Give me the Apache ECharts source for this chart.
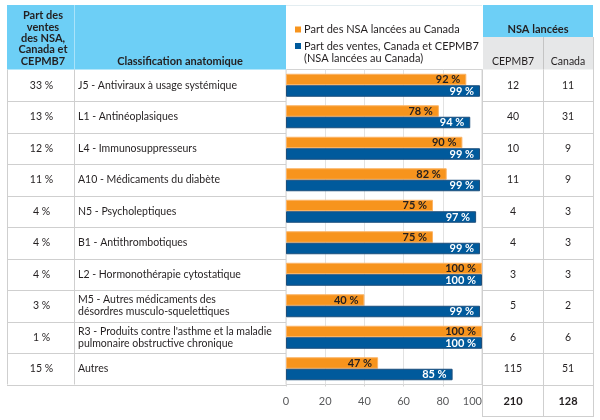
<!DOCTYPE html>
<html><head><meta charset="utf-8">
<script src="https://cdn.jsdelivr.net/npm/echarts@6/dist/echarts.min.js"></script>
<style>html,body{margin:0;padding:0;background:#fff}#c{width:600px;height:420px}</style>
</head><body><div id="c"></div>
<script>
// ---- data ----
const categories = [
  'J5 - Antiviraux à usage systémique',
  'L1 - Antinéoplasiques',
  'L4 - Immunosuppresseurs',
  'A10 - Médicaments du diabète',
  'N5 - Psycholeptiques',
  'B1 - Antithrombotiques',
  'L2 - Hormonothérapie cytostatique',
  'M5 - Autres médicaments des\ndésordres musculo-squelettiques',
  "R3 - Produits contre l'asthme et la maladie\npulmonaire obstructive chronique",
  'Autres'
];
const salesShare = ['33 %','13 %','12 %','11 %','4 %','4 %','4 %','3 %','1 %','15 %'];
const nsaLaunchedShare = [92, 78, 90, 82, 75, 75, 100, 40, 100, 47];
const salesLaunchedShare = [99, 94, 99, 99, 97, 99, 100, 99, 100, 85];
const launchedPMPRB7 = [12, 40, 10, 11, 4, 4, 3, 5, 6, 115];
const launchedCanada = [11, 31, 9, 9, 3, 3, 3, 2, 6, 51];
const totals = [210, 128];
const seriesNames = ['Part des NSA lancées au Canada', 'Part des ventes, Canada et CEPMB7', '(NSA lancées au Canada)'];
const headers = {
  share: 'Part des\nventes\ndes NSA,\nCanada et\nCEPMB7',
  cls: 'Classification anatomique',
  launched: 'NSA lancées',
  sub: ['CEPMB7', 'Canada']
};

// ---- style/layout ----
const FONT = 'Lato';
const ORANGE = '#f7941d', BLUE = '#005a9c', HEAD = '#6dcff6', SUB = '#e6e7e8';
const TXT = '#231f20', LINE = '#cfcfcf';
const G = {left: 286, right: 118, top: 69.5, bottom: 35.5};
const W = 600, H = 420;
const gTop = G.top, gBot = H - G.bottom, gRight = W - G.right;
const rowH = (gBot - gTop) / categories.length;

const chart = echarts.init(document.getElementById('c'), null, {renderer: 'canvas'});

const graphic = [];
// headers
graphic.push({type:'rect', shape:{x:7, y:5, width:G.left-7, height:gTop-5}, style:{fill:HEAD}, z:0});
graphic.push({type:'line', shape:{x1:74.5, y1:5, x2:74.5, y2:gTop}, style:{stroke:'#a9e3fa', lineWidth:1}, z:1});
graphic.push({type:'rect', shape:{x:gRight+1, y:5, width:110, height:32}, style:{fill:HEAD}, z:0});
graphic.push({type:'rect', shape:{x:gRight+1, y:37, width:110, height:gTop-37}, style:{fill:SUB}, z:0});
graphic.push({type:'line', shape:{x1:543.5, y1:37, x2:543.5, y2:gTop}, style:{stroke:'#c4c4c4', lineWidth:1}, z:1});
graphic.push({type:'line', shape:{x1:G.left, y1:5.5, x2:gRight, y2:5.5}, style:{stroke:'#e3edf1', lineWidth:1}, z:1});
graphic.push({type:'text', x:43, y:38.5, style:{text:headers.share, font:'bold 11px '+FONT, fill:TXT, textAlign:'center', textVerticalAlign:'middle', lineHeight:11.3}, z:2});
graphic.push({type:'text', x:180, y:61.5, style:{text:headers.cls, font:'bold 11px '+FONT, fill:TXT, textAlign:'center', textVerticalAlign:'middle'}, z:2});
graphic.push({type:'text', x:538, y:29.5, style:{text:headers.launched, font:'bold 11px '+FONT, fill:TXT, textAlign:'center', textVerticalAlign:'middle'}, z:2});
graphic.push({type:'text', x:513, y:61.5, style:{text:headers.sub[0], font:'10.5px '+FONT, fill:TXT, textAlign:'center', textVerticalAlign:'middle'}, z:2});
graphic.push({type:'text', x:568, y:61.5, style:{text:headers.sub[1], font:'10.5px '+FONT, fill:TXT, textAlign:'center', textVerticalAlign:'middle'}, z:2});
// legend (manual, to align square with first line)
graphic.push({type:'rect', shape:{x:295, y:26.5, width:6, height:6}, style:{fill:ORANGE}, z:2});
graphic.push({type:'text', x:304, y:29.5, style:{text:seriesNames[0], font:'11px '+FONT, fill:TXT, textVerticalAlign:'middle'}, z:2});
graphic.push({type:'rect', shape:{x:295, y:43, width:6, height:6}, style:{fill:BLUE}, z:2});
graphic.push({type:'text', x:304, y:46.5, style:{text:seriesNames[1], font:'11px '+FONT, fill:TXT, textVerticalAlign:'middle'}, z:2});
graphic.push({type:'text', x:304, y:58, style:{text:seriesNames[2], font:'11px '+FONT, fill:TXT, textVerticalAlign:'middle'}, z:2});
// table rules
for (let i = 1; i <= categories.length; i++) {
  const y = Math.round(gTop + i * rowH) + 0.5;
  graphic.push({type:'line', shape:{x1:7, y1:y, x2:G.left, y2:y}, style:{stroke:LINE, lineWidth:1}, z:1});
  graphic.push({type:'line', shape:{x1:gRight, y1:y, x2:593.5, y2:y}, style:{stroke:LINE, lineWidth:1}, z:1});
}
graphic.push({type:'line', shape:{x1:7.5, y1:gTop, x2:7.5, y2:gBot}, style:{stroke:LINE, lineWidth:1}, z:1});
graphic.push({type:'line', shape:{x1:74.5, y1:gTop, x2:74.5, y2:gBot}, style:{stroke:LINE, lineWidth:1}, z:1});
graphic.push({type:'line', shape:{x1:gRight+0.5, y1:gTop, x2:gRight+0.5, y2:417}, style:{stroke:LINE, lineWidth:1}, z:1});
graphic.push({type:'line', shape:{x1:543.5, y1:gTop, x2:543.5, y2:417}, style:{stroke:LINE, lineWidth:1}, z:1});
graphic.push({type:'line', shape:{x1:593.5, y1:37, x2:593.5, y2:417}, style:{stroke:LINE, lineWidth:1}, z:1});
graphic.push({type:'line', shape:{x1:gRight, y1:416.5, x2:593.5, y2:416.5}, style:{stroke:LINE, lineWidth:1}, z:1});
graphic.push({type:'text', x:513, y:401.5, style:{text:String(totals[0]), font:'bold 11px '+FONT, fill:TXT, textAlign:'center', textVerticalAlign:'middle'}, z:2});
graphic.push({type:'text', x:568, y:401.5, style:{text:String(totals[1]), font:'bold 11px '+FONT, fill:TXT, textAlign:'center', textVerticalAlign:'middle'}, z:2});

const catAxisBase = {
  type: 'category', inverse: true, gridIndex: 0,
  axisLine: {show: false}, axisTick: {show: false}, splitLine: {show: false}
};

chart.setOption({
  animation: false,
  textStyle: {fontFamily: FONT},
  grid: {left: G.left, right: G.right, top: G.top, bottom: G.bottom, show: true, borderColor: '#d4d4d4', borderWidth: 1},
  xAxis: {
    type: 'value', min: 0, max: 100, interval: 20,
    axisLine: {show: false},
    axisTick: {show: true, length: 2, lineStyle: {color: '#d4d4d4'}},
    splitLine: {show: true, lineStyle: {color: '#e2e2e2'}},
    axisLabel: {color: '#58595b', fontSize: 11, fontFamily: FONT, margin: 11, alignMaxLabel: 'right'}
  },
  yAxis: [
    Object.assign({}, catAxisBase, {data: categories, position: 'left',
      axisLabel: {align: 'left', margin: G.left - 78, color: TXT, fontSize: 10.5, lineHeight: 12, fontFamily: FONT}}),
    Object.assign({}, catAxisBase, {data: salesShare, position: 'left',
      axisLabel: {align: 'center', margin: G.left - 41.5, color: TXT, fontSize: 10.5, fontFamily: FONT}}),
    Object.assign({}, catAxisBase, {data: launchedPMPRB7, position: 'right',
      axisLabel: {align: 'center', margin: 513 - gRight, color: TXT, fontSize: 10.5, fontFamily: FONT}}),
    Object.assign({}, catAxisBase, {data: launchedCanada, position: 'right',
      axisLabel: {align: 'center', margin: 568 - gRight, color: TXT, fontSize: 10.5, fontFamily: FONT}})
  ],
  series: [
    {
      name: seriesNames[0], type: 'bar', yAxisIndex: 0, data: nsaLaunchedShare,
      barWidth: 11.5, barGap: '0%',
      itemStyle: {color: ORANGE, borderColor: '#fbb467', borderWidth: 1},
      label: {show: true, position: 'insideRight', offset: [-1, 0], formatter: '{c} %', color: TXT, fontWeight: 'bold', fontSize: 11, fontFamily: FONT}
    },
    {
      name: seriesNames[1], type: 'bar', yAxisIndex: 0, data: salesLaunchedShare,
      barWidth: 11.5, barGap: '0%',
      itemStyle: {color: BLUE, borderColor: '#1d4f7c', borderWidth: 1},
      label: {show: true, position: 'insideRight', offset: [-1, 0], formatter: '{c} %', color: '#ffffff', fontWeight: 'bold', fontSize: 11, fontFamily: FONT}
    }
  ],
  graphic: graphic
});
</script>
</body></html>
